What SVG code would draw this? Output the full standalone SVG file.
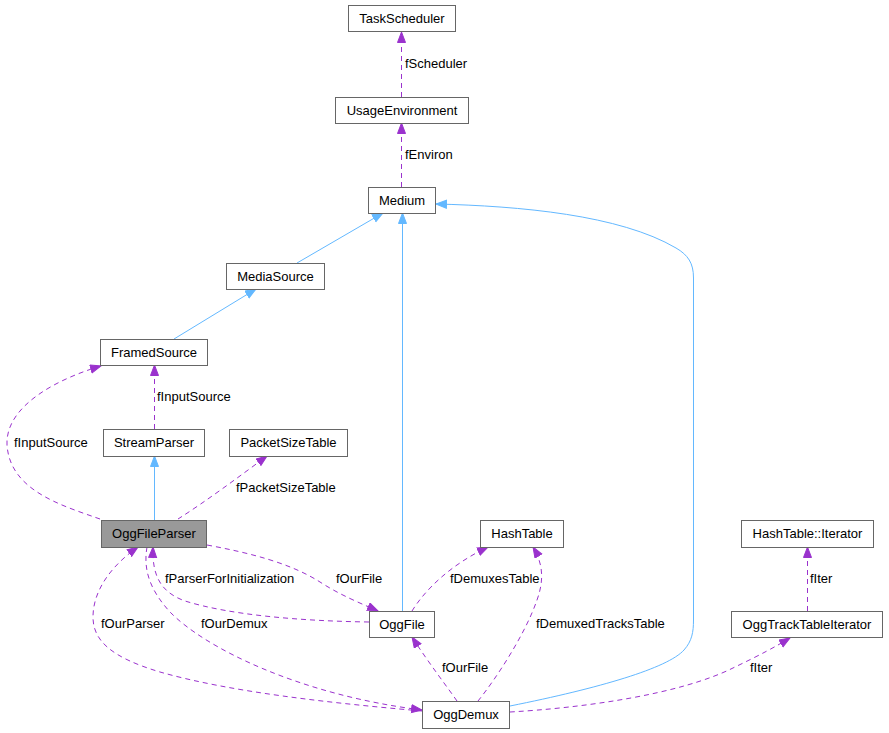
<svg xmlns="http://www.w3.org/2000/svg" width="889" height="733" viewBox="0 0 889 733">
<defs>
<style>
.node rect{fill:#ffffff;stroke:#666666;stroke-width:1}
.node.hl rect{fill:#999999}
text{font-family:"Liberation Sans",Arial,sans-serif;font-size:13px;fill:#000000}
.node text{text-anchor:middle}
.inh{fill:none;stroke:#63b8ff;stroke-width:1}
.use{fill:none;stroke:#9a32cd;stroke-width:1;stroke-dasharray:5,4}
</style>
<marker id="ab" markerUnits="userSpaceOnUse" markerWidth="13" markerHeight="11" refX="11" refY="4.5" orient="auto">
<path d="M0.5,0.5 L11,4.5 L0.5,8.5 z" fill="#63b8ff" stroke="#63b8ff" stroke-width="1"/>
</marker>
<marker id="ap" markerUnits="userSpaceOnUse" markerWidth="13" markerHeight="11" refX="11" refY="4.5" orient="auto">
<path d="M0.5,0.5 L11,4.5 L0.5,8.5 z" fill="#9a32cd" stroke="#9a32cd" stroke-width="1"/>
</marker>
</defs>
<rect width="889" height="733" fill="#ffffff"/>
<g id="edges">
<path class="use" d="M401.5,97 L401.5,32" marker-end="url(#ap)"/>
<path class="use" d="M401.5,187 L401.5,123" marker-end="url(#ap)"/>
<path class="inh" d="M297,263 L383,213" marker-end="url(#ab)"/>
<path class="inh" d="M174,339 L256,289" marker-end="url(#ab)"/>
<path class="use" d="M154.5,429 L154.5,365" marker-end="url(#ap)"/>
<path class="use" d="M100,519 C60,505 10,490 7,445 C5,405 60,378 101,366" marker-end="url(#ap)"/>
<path class="inh" d="M154.5,520 L154.5,456" marker-end="url(#ab)"/>
<path class="use" d="M178,519 C205,502 240,476 267,456" marker-end="url(#ap)"/>
<path class="use" d="M207,545 C250,553 290,563 320,582 C340,595 360,603 378,611" marker-end="url(#ap)"/>
<path class="use" d="M369,622 C300,621 230,615 185,601 C160,592 152,575 153,547" marker-end="url(#ap)"/>
<path class="use" d="M422,711 C330,703 230,692 160,672 C110,657 93,640 93,617 C93,590 112,565 138,547" marker-end="url(#ap)"/>
<path class="use" d="M147,547 C143,570 150,590 170,612 C205,648 300,695 422,710" marker-end="url(#ap)"/>
<path class="use" d="M457,701 C448,688 428,662 412,637" marker-end="url(#ap)"/>
<path class="use" d="M478,701 C495,680 525,635 537,600 C545,578 542,562 533,547" marker-end="url(#ap)"/>
<path class="use" d="M412,611 C425,590 450,565 488,547" marker-end="url(#ap)"/>
<path class="inh" d="M402.5,611 L402.5,213" marker-end="url(#ab)"/>
<path class="inh" d="M510,706 C600,688 668,668 684,650 C692,641 693.5,632 693.5,620 L693.5,278 C693.5,263 688,255 676,248 C620,215 520,206 436,204" marker-end="url(#ab)"/>
<path class="use" d="M510,712 C580,708 680,695 735,667 C760,655 775,647 790,638" marker-end="url(#ap)"/>
<path class="use" d="M807.5,611 L807.5,547" marker-end="url(#ap)"/>
<text x="405" y="68">fScheduler</text>
<text x="405" y="159">fEnviron</text>
<text x="157" y="401">fInputSource</text>
<text x="14" y="447">fInputSource</text>
<text x="236" y="492">fPacketSizeTable</text>
<text x="165" y="583">fParserForInitialization</text>
<text x="336" y="583">fOurFile</text>
<text x="101" y="628">fOurParser</text>
<text x="201" y="628">fOurDemux</text>
<text x="450" y="583">fDemuxesTable</text>
<text x="536" y="628">fDemuxedTracksTable</text>
<text x="442" y="672">fOurFile</text>
<text x="750" y="672">fIter</text>
<text x="810" y="583">fIter</text>
</g>
<g id="TaskScheduler" class="node"><rect x="348.5" y="5.5" width="107" height="26"/><text x="402" y="23">TaskScheduler</text></g>
<g id="UsageEnvironment" class="node"><rect x="335.5" y="97.5" width="133" height="26"/><text x="402" y="115">UsageEnvironment</text></g>
<g id="Medium" class="node"><rect x="368.5" y="187.5" width="67" height="26"/><text x="402" y="205">Medium</text></g>
<g id="MediaSource" class="node"><rect x="226.5" y="263.5" width="98" height="26"/><text x="275.5" y="281">MediaSource</text></g>
<g id="FramedSource" class="node"><rect x="100.5" y="339.5" width="107" height="26"/><text x="154" y="357">FramedSource</text></g>
<g id="StreamParser" class="node"><rect x="103.5" y="429.5" width="101" height="27"/><text x="154" y="447">StreamParser</text></g>
<g id="PacketSizeTable" class="node"><rect x="229.5" y="429.5" width="118" height="27"/><text x="288.5" y="447">PacketSizeTable</text></g>
<g id="OggFileParser" class="node hl"><rect x="101.5" y="520.5" width="105" height="27"/><text x="154" y="538">OggFileParser</text></g>
<g id="HashTable" class="node"><rect x="480.5" y="520.5" width="83" height="27"/><text x="522" y="538">HashTable</text></g>
<g id="HashTableIterator" class="node"><rect x="741.5" y="520.5" width="132" height="27"/><text x="807.5" y="538">HashTable::Iterator</text></g>
<g id="OggFile" class="node"><rect x="369.5" y="611.5" width="65" height="26"/><text x="402" y="629">OggFile</text></g>
<g id="OggTrackTableIterator" class="node"><rect x="731.5" y="611.5" width="151" height="26"/><text x="807" y="629">OggTrackTableIterator</text></g>
<g id="OggDemux" class="node"><rect x="422.5" y="701.5" width="87" height="27"/><text x="466" y="719">OggDemux</text></g>
</svg>
